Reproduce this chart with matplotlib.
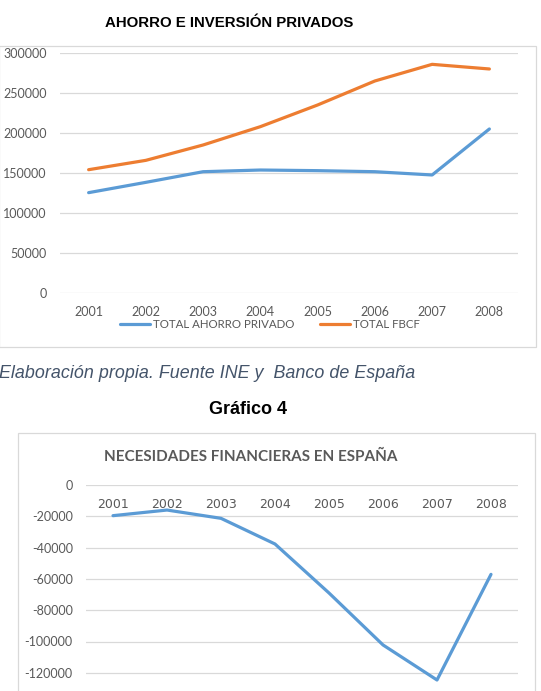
import matplotlib
matplotlib.use('Agg')
import matplotlib.pyplot as plt
from matplotlib.patches import Rectangle

### Data
years = ['2001', '2002', '2003', '2004', '2005', '2006', '2007', '2008']
ahorro_privado = [125800, 138700, 152000, 154100, 153300, 152000, 147900, 205400]
total_fbcf = [154500, 166200, 185400, 208300, 235400, 265400, 286200, 280400]
necesidades = [-19600, -16000, -21300, -37700, -69000, -102200, -124600, -57100]

top_yticks = [0, 50000, 100000, 150000, 200000, 250000, 300000]
bottom_yticks = [0, -20000, -40000, -60000, -80000, -100000, -120000]

W, H = 541, 691
BLUE = '#5B9BD5'
ORANGE = '#ED7D31'
GRID = '#D9D9D9'
TICK = '#595959'
TICKFONT = 'Lato'

fig = plt.figure(figsize=(W / 100, H / 100), dpi=100)

def px_rect(x0, y0, x1, y1):
    # pixel box (top-left origin) -> figure fraction [l, b, w, h]
    return [x0 / W, 1 - y1 / H, (x1 - x0) / W, (y1 - y0) / H]

def style_axes(ax):
    for s in ax.spines.values():
        s.set_visible(False)
    ax.grid(axis='y', color=GRID, linewidth=0.9)
    ax.set_axisbelow(True)
    ax.tick_params(length=0, colors=TICK, labelsize=9)
    for lab in ax.get_xticklabels() + ax.get_yticklabels():
        lab.set_fontfamily(TICKFONT)

### Chart borders
fig.patches.append(Rectangle((-1 / W, 1 - 347 / H), 537 / W, (347 - 45.7) / H,
                             transform=fig.transFigure, fill=False, edgecolor=GRID, linewidth=0.9))
fig.patches.append(Rectangle((18.3 / W, 1 - 720 / H), (535 - 18.3) / W, (720 - 433.3) / H,
                             transform=fig.transFigure, fill=False, edgecolor=GRID, linewidth=0.9))

### Top chart
ax1 = fig.add_axes(px_rect(60, 53.3, 518, 293.3))
x = range(len(years))
ax1.plot(x, ahorro_privado, color=BLUE, linewidth=2.3, label='TOTAL AHORRO PRIVADO', solid_capstyle='round')
ax1.plot(x, total_fbcf, color=ORANGE, linewidth=2.3, label='TOTAL FBCF', solid_capstyle='round')
ax1.set_xlim(-0.5, len(years) - 0.5)
ax1.set_ylim(0, 300000)
ax1.set_yticks(top_yticks)
ax1.set_yticklabels([str(v) for v in top_yticks])
ax1.set_xticks(list(x))
ax1.set_xticklabels(years)
style_axes(ax1)
ax1.tick_params(axis='y', pad=9.5)
ax1.tick_params(axis='x', pad=9.5)
leg = ax1.legend(loc='center', bbox_to_anchor=(270 / W, 1 - 325 / H), bbox_transform=fig.transFigure,
                 ncol=2, frameon=False, handlelength=2.6, handletextpad=0.25, columnspacing=2.2,
                 borderpad=0, prop={'family': TICKFONT, 'size': 8.3})
for t in leg.get_texts():
    t.set_color(TICK)

fig.text(229 / W, 1 - 23 / H, 'AHORRO E INVERSIÓN PRIVADOS', ha='center', va='center',
         fontfamily='Liberation Sans', fontweight='bold', fontsize=10.8, color='black')

### Caption and figure number
fig.text(-1 / W, 1 - 373.3 / H, 'Elaboración propia. Fuente INE y  Banco de España', ha='left', va='center',
         fontfamily='Liberation Sans', style='italic', fontsize=12.9, color='#44546A')
fig.text(248 / W, 1 - 409.3 / H, 'Gráfico 4', ha='center', va='center',
         fontfamily='Liberation Sans', fontweight='bold', fontsize=13, color='black')

### Bottom chart
ax2 = fig.add_axes(px_rect(86, 485, 518, 485 + 7 * 31.3))
ax2.plot(x, necesidades, color=BLUE, linewidth=2.3, solid_capstyle='round')
ax2.set_xlim(-0.5, len(years) - 0.5)
ax2.set_ylim(-140000, 0)
ax2.set_yticks(bottom_yticks)
ax2.set_yticklabels([str(v) for v in bottom_yticks])
ax2.set_xticks(list(x))
ax2.set_xticklabels(years)
style_axes(ax2)
ax2.tick_params(axis='y', pad=9.5)
ax2.tick_params(axis='x', top=False, bottom=False, labeltop=True, labelbottom=False, pad=-18.5)

fig.text(251 / W, 1 - 456.7 / H, 'NECESIDADES FINANCIERAS EN ESPAÑA', ha='center', va='center',
         fontfamily=TICKFONT, fontweight='bold', fontsize=11, color=TICK)

fig.savefig('out.png', dpi=100)
